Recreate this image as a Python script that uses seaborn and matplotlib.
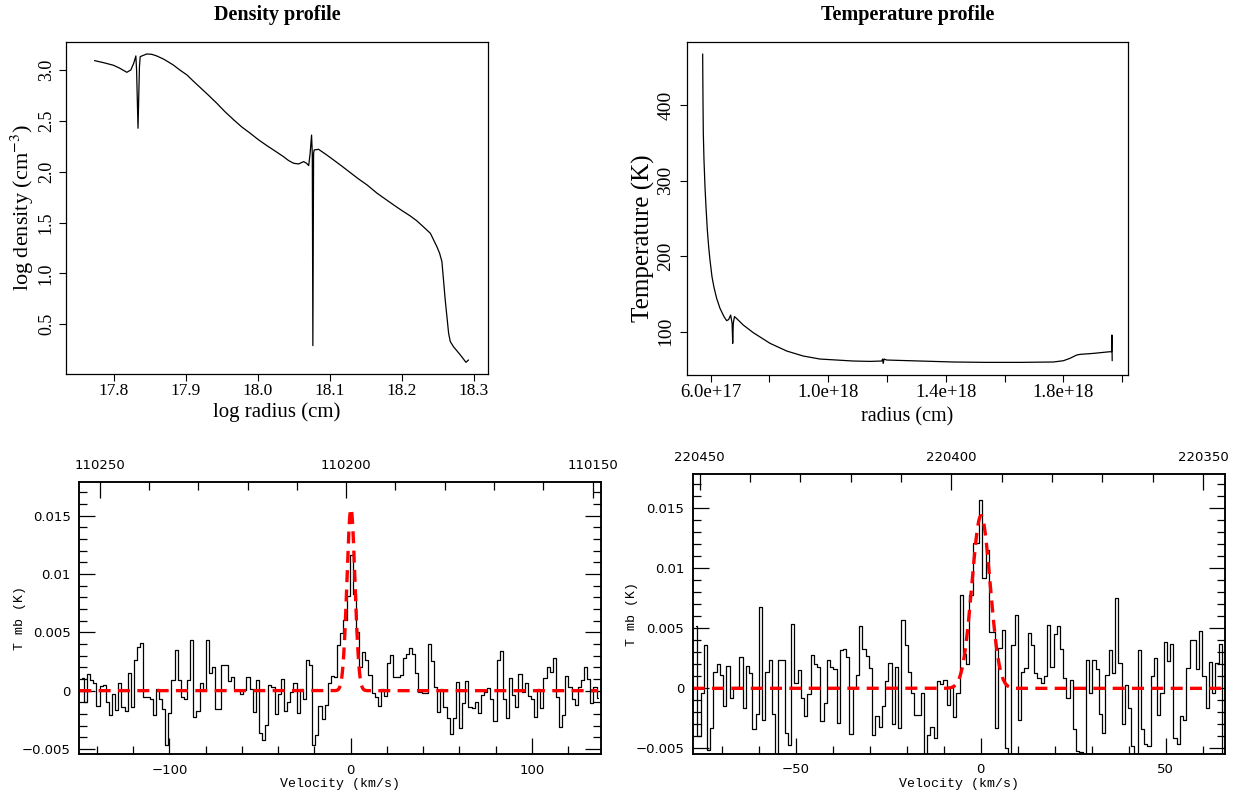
import numpy as np
import matplotlib
matplotlib.use("Agg")
import matplotlib.pyplot as plt
from matplotlib.ticker import FixedLocator, MultipleLocator, FuncFormatter
import seaborn as sns

# ---------------- data: density profile ----------------
log_radius = [17.7736, 17.786, 17.800, 17.809, 17.8185, 17.824, 17.828, 17.831, 17.832, 17.834,
              17.836, 17.837, 17.846, 17.853, 17.860, 17.870, 17.883, 17.892, 17.902, 17.911,
              17.920, 17.9315, 17.9435, 17.955, 17.967, 17.978, 17.990, 18.001, 18.013, 18.025,
              18.036, 18.043, 18.050, 18.057, 18.064,
              18.068, 18.071, 18.073, 18.075, 18.076, 18.0768, 18.0778, 18.0787, 18.0847, 18.095,
              18.1056, 18.117, 18.1287, 18.140, 18.152, 18.166, 18.178, 18.189, 18.200, 18.212,
              18.221, 18.230, 18.240, 18.249, 18.2528, 18.256,
              18.2606, 18.2653, 18.2676, 18.272, 18.2815, 18.2894, 18.293]
log_density = [3.092, 3.072, 3.046, 3.016, 2.977, 3.000, 3.066, 3.138, 3.000, 2.427,
               3.033, 3.131, 3.157, 3.154, 3.138, 3.105, 3.049, 3.000, 2.951, 2.889,
               2.830, 2.754, 2.672, 2.588, 2.509, 2.440, 2.377, 2.315, 2.256, 2.200,
               2.148, 2.110, 2.083, 2.076, 2.099,
               2.083, 2.060, 2.180, 2.360, 2.180, 0.290, 2.180, 2.214, 2.220, 2.170,
               2.115, 2.055, 1.991, 1.930, 1.870, 1.788, 1.728, 1.673, 1.620, 1.565,
               1.518, 1.460, 1.394, 1.263, 1.198, 1.116,
               0.739, 0.412, 0.330, 0.280, 0.199, 0.126, 0.149]
density_xticks = [17.8, 17.9, 18.0, 18.1, 18.2, 18.3]
density_yticks = [0.5, 1.0, 1.5, 2.0, 2.5, 3.0]

# ---------------- data: temperature profile ----------------
radius_cm = [5.728e17, 5.739e17, 5.750e17, 5.773e17, 5.807e17, 5.841e17, 5.887e17, 5.932e17, 5.977e17,
             6.045e17, 6.113e17, 6.204e17, 6.318e17, 6.454e17, 6.544e17, 6.61e17, 6.68e17, 6.73e17,
             6.75e17, 6.77e17, 6.81e17, 6.88e17, 7.11e17, 7.45e17, 8.02e17, 8.59e17, 9.15e17,
             9.72e17, 1.029e18, 1.085e18, 1.142e18, 1.182e18, 1.185e18, 1.187e18, 1.190e18,
             1.199e18, 1.312e18, 1.426e18, 1.539e18, 1.652e18, 1.766e18, 1.800e18, 1.822e18,
             1.845e18, 1.857e18, 1.902e18, 1.958e18, 1.964e18, 1.965e18, 1.966e18]
temperature_K = [467.4, 406.6, 362.5, 327.2, 291.9, 265.4, 234.5, 212.5, 194.8,
                 172.8, 158.7, 144.1, 130.9, 119.9, 114.6, 116.0, 122.0, 111.0,
                 84.6, 111.0, 120.0, 117.6, 108.8, 98.7, 84.6, 74.4, 67.8,
                 63.8, 62.5, 61.2, 60.7, 61.2, 63.8, 58.0, 63.8,
                 62.5, 61.2, 59.9, 59.4, 59.4, 59.9, 61.6, 64.7,
                 69.1, 70.0, 71.3, 73.5, 73.5, 95.6, 61.6]
temp_xticks = [6e17, 8e17, 1.0e18, 1.2e18, 1.4e18, 1.6e18, 1.8e18, 2.0e18]
temp_xtick_labels = ["6.0e+17", "", "1.0e+18", "", "1.4e+18", "", "1.8e+18", ""]
temp_yticks = [100, 200, 300, 400]

# ---------------- data: 13CO(1-0) spectrum (T_mb in mK) ----------------
v0_10, dv_10 = -148.0, 1.725          # first channel velocity, channel width (km/s)
tmb_10_mK = [
    1.05, -0.94, 1.42, 0.91, 0.68, -1.31, 0.40, 0.45, -0.94, -2.07,
    -0.28, -1.65, 0.68, -1.36, -1.73, 1.53, -1.42, 2.67, 3.75, 4.09,
    -0.51, -0.51, -0.68, -2.07, 0.11, -0.74, -1.59, -4.63, -1.93, 0.91,
    3.47, 0.91, -0.51, -0.74, 0.91, 4.32, -2.22, -1.70, 0.63, 0.06,
    4.32, 1.53, 2.05, -1.59, -1.59, 2.19, 2.19, 0.80, 1.19, 0.06,
    0.06, -0.28, 0.06, 1.14, 0.11, -1.79, 0.91,
    -3.64, -4.20, -2.93, 0.48, 0.28, -1.99, -0.28, 0.97, -1.70, -0.94,
    -0.09, 0.63, -1.88, 0.11, -0.74, 2.67, 2.19, -4.63, -3.78, -1.31,
    -2.44, -1.22, 0.68, 1.25, 1.14, 3.89, 4.94, 6.08, 8.07, 11.6,
    8.24, 5.03, 2.05, 3.32, 2.67, 1.34, -0.17, -0.57, -1.31, 0.14,
    -0.43, 2.33, 3.04, 1.14, 1.14, 1.34, 2.84, 3.18, 3.69, 3.18,
    1.48, -0.09, -0.23, -0.17,
    4.03, 2.56, 0.34, -1.79, 0.11, -1.36, -2.36, -3.72, -2.36, 0.77,
    -3.21, -1.08, 0.82, -1.42, -1.51, -0.94, -1.93, -0.37, -0.09, 0.23,
    -0.74, -2.56, 2.67, 3.41, -0.74, -2.36, 1.05, -0.37, -1.42, 1.42,
    -0.09, 0.68, -0.45, -0.74, -2.22, 0.11, -1.51, 1.05, 2.05, 1.62,
    2.84, -0.51, -3.07, -2.07, 1.25, 0.28, -0.74, -1.22, 0.28, 0.91,
    1.99, 0.97, -1.02, 0.28, -0.60]
fit_10 = dict(amp=0.0156, center=0.2, fwhm=5.2)
frest_10, vsys = 110201.354, 6.1       # MHz, km/s

# ---------------- data: 13CO(2-1) spectrum (T_mb in mK) ----------------
v0_21, dv_21 = -77.0, 0.875
tmb_21_mK = [
    5.2, -4.0, -0.4, 3.6, -5.1, -3.3, 1.33, 2.0, 1.1, -1.5,
    1.83, -0.8, 0.1, 0.1, 2.6, -1.6, 1.83, 1.28, -3.4, -2.1,
    6.8, -2.6, 1.4, 2.4, -2.1, -6.5, 2.4, 2.4, -3.7, -4.7,
    5.4, 0.44, 1.55, -0.8, -2.3, -0.5, 2.8, 2.0, 1.8, -2.75,
    -1.2, 2.4, 1.8, 1.6, -2.9, 3.2, 3.3, 2.6, -3.8, 0.0,
    1.1, 5.2, 3.3, 2.7, 1.7,
    -3.9, -2.3, -3.2, -1.5, 0.58, 2.1, -3.0, 1.8, -3.3, 5.7,
    3.6, 1.4, -0.4, -2.2, -2.2, -0.4, -6.0, -3.9, -3.2, -4.1,
    0.58, 0.4, 0.67, -1.4, 0.1, -2.4, -0.4, 7.8, 2.9, 2.0,
    7.8, 12.1, 12.1, 15.7, 9.2, 11.5, 4.7, 4.7, -3.3, 3.4,
    4.9, -5.0, -6.0, 3.6, 6.1, -2.6, 1.4, 1.7, 4.6, 3.6,
    1.3, 0.86, 0.44, 1.0, 5.3,
    1.8, 4.5, 5.2, 3.3, 0.86, -0.8, 0.7, -3.4, -5.25, -5.3,
    -6.0, 2.4, -0.4, 2.4, 1.6, -2.1, -3.7, 1.1, 3.2, 1.3,
    7.5, 2.1, -3.0, 0.3, -1.6, -4.8, -6.0, 3.2, -3.4, -4.6,
    -4.8, 1.0, 2.5, -2.2, -0.4, 3.9, 2.3, 3.7, -4.1, -4.6,
    -2.3, -2.6, 1.7, 4.0, 4.0, 1.6, 4.75, 1.0, -1.6, 2.2,
    -0.4, 2.1, 3.7, -6.0, -4.0]
fit_21 = dict(amp=0.0144, center=0.1, fwhm=5.8)
frest_21 = 220398.684

tmb_yticks = [-0.005, 0.0, 0.005, 0.01, 0.015]
C_KMS = 299792.458

# ---------------- style ----------------
sns.set_style("ticks")
plt.rcParams.update({
    "font.family": ["DejaVu Sans"],
    "mathtext.fontset": "stix",
    "axes.edgecolor": "black", "xtick.color": "black", "ytick.color": "black",
    "text.color": "black", "axes.labelcolor": "black",
})
SERIF = "Liberation Serif"
MONO = "Liberation Mono"

W, H = 1239, 797
fig = plt.figure(figsize=(W / 100, H / 100), dpi=100)


def add_ax(l, t, r, b):
    return fig.add_axes([l / W, 1 - b / H, (r - l) / W, (b - t) / H])


# ================= Density profile =================
ax1 = add_ax(66, 42, 488, 374)
sns.lineplot(x=log_radius, y=log_density, ax=ax1, color="black", lw=0.9,
             sort=False, estimator=None)
ax1.set_xlim(17.734, 18.320)
ax1.set_ylim(0.011, 3.275)
ax1.xaxis.set_major_locator(FixedLocator(density_xticks))
ax1.yaxis.set_major_locator(FixedLocator(density_yticks))
ax1.xaxis.set_major_formatter(FuncFormatter(lambda x, p: f"{x:.1f}"))
ax1.yaxis.set_major_formatter(FuncFormatter(lambda x, p: f"{x:.1f}"))
ax1.tick_params(axis="both", direction="out", length=5, width=0.8,
                labelfontfamily=SERIF)
ax1.tick_params(axis="x", labelsize=12.5, pad=1.5)
ax1.tick_params(axis="y", labelsize=13, pad=3, labelrotation=90)
for lab in ax1.get_yticklabels():
    lab.set_va("center")
ax1.set_xlabel("log radius (cm)", fontsize=15, fontfamily=SERIF, va="center")
ax1.set_ylabel(r"log density (cm$^{-3}$)", fontsize=16, fontfamily=SERIF, va="center")
ax1.xaxis.set_label_coords(0.5, -0.1145)
ax1.yaxis.set_label_coords(-0.1043, 0.5)
ax1.set_title("Density profile", fontsize=14.5, fontweight="bold", fontfamily=SERIF,
              y=1.0813, pad=0, va="center")
for s in ax1.spines.values():
    s.set_linewidth(0.9)

# ================= Temperature profile =================
ax2 = add_ax(686.7, 41.7, 1128, 375)
sns.lineplot(x=radius_cm, y=temperature_K, ax=ax2, color="black", lw=0.9,
             sort=False, estimator=None)
ax2.set_xlim(5.185e17, 2.0198e18)
ax2.set_ylim(42.7, 483.7)
ax2.xaxis.set_major_locator(FixedLocator(temp_xticks))
ax2.xaxis.set_major_formatter(FuncFormatter(
    lambda x, p: temp_xtick_labels[p] if p is not None and p < len(temp_xtick_labels) else ""))
ax2.yaxis.set_major_locator(FixedLocator(temp_yticks))
ax2.yaxis.set_major_formatter(FuncFormatter(lambda y, p: f"{y:.0f}"))
ax2.tick_params(axis="both", direction="out", length=5, width=0.8,
                labelfontfamily=SERIF)
ax2.tick_params(axis="x", labelsize=13.5, pad=1.5)
ax2.tick_params(axis="y", labelsize=14, pad=4, labelrotation=90)
for lab in ax2.get_yticklabels():
    lab.set_va("center")
ax2.set_xlabel("radius (cm)", fontsize=14.5, fontfamily=SERIF, va="center")
ax2.set_ylabel("Temperature (K)", fontsize=18, fontfamily=SERIF, va="center")
ax2.xaxis.set_label_coords(0.5, -0.126)
ax2.yaxis.set_label_coords(-0.097, 0.41)
ax2.set_title("Temperature profile", fontsize=14.5, fontweight="bold", fontfamily=SERIF,
              y=1.080, pad=0, va="center")
for s in ax2.spines.values():
    s.set_linewidth(0.9)


# ================= Spectra =================
def tmb_fmt(y, pos):
    if abs(y) < 1e-12:
        return "0"
    return f"{y:g}".replace("-", "\u2212")


def vel_fmt(v, pos):
    return f"{v:g}".replace("-", "\u2212")


def spectrum_panel(ax, v0, dv, tmb_mK, fit, frest, xlim, vmaj, vmin, fmaj, fmin,
                   xlabel_y, ylabel_x):
    tmb = np.asarray(tmb_mK) / 1000.0
    vel = v0 + dv * np.arange(len(tmb))
    sns.lineplot(x=vel, y=tmb, ax=ax, color="black", lw=0.9, drawstyle="steps-mid",
                 sort=False, estimator=None)
    vf = np.linspace(xlim[0], vel[-1], 1500)
    model = fit["amp"] * np.exp(-4 * np.log(2) * ((vf - fit["center"]) / fit["fwhm"]) ** 2)
    sns.lineplot(x=vf, y=model, ax=ax, color="#ff0000", lw=2.4, sort=False, estimator=None)
    ax.lines[-1].set_dashes((3.6, 2.2))
    ax.set_xlim(*xlim)
    ax.set_ylim(-0.00545, 0.0179)
    ax.xaxis.set_major_locator(MultipleLocator(vmaj))
    ax.xaxis.set_minor_locator(MultipleLocator(vmin))
    ax.xaxis.set_major_formatter(FuncFormatter(vel_fmt))
    ax.yaxis.set_major_locator(FixedLocator(tmb_yticks))
    ax.yaxis.set_minor_locator(MultipleLocator(0.001))
    ax.yaxis.set_major_formatter(FuncFormatter(tmb_fmt))
    ax.tick_params(which="both", direction="in", left=True, right=True, bottom=True,
                   top=False, width=0.9, labelsize=9.5)
    ax.tick_params(which="major", length=11.5)
    ax.tick_params(which="minor", length=5.5)
    ax.tick_params(axis="y", pad=6)
    ax.tick_params(axis="x", pad=7)
    for s in ax.spines.values():
        s.set_linewidth(1.1)
    ax.set_xlabel("Velocity (km/s)", fontsize=9.5, fontfamily=MONO, va="center")
    ax.set_ylabel("T mb (K)", fontsize=9.5, fontfamily=MONO, va="center")
    ax.xaxis.set_label_coords(0.5, xlabel_y)
    ax.yaxis.set_label_coords(ylabel_x, 0.5)

    # frequency axis on top (sky frequency)
    f0 = frest * (1 - vsys / C_KMS)
    axf = ax.twiny()
    axf.set_xlim(f0 * (1 - xlim[0] / C_KMS), f0 * (1 - xlim[1] / C_KMS))
    axf.xaxis.set_major_locator(MultipleLocator(fmaj))
    axf.xaxis.set_minor_locator(MultipleLocator(fmin))
    axf.xaxis.set_major_formatter(FuncFormatter(lambda f, p: f"{f:.0f}"))
    axf.tick_params(which="both", direction="in", top=True, bottom=False,
                    labeltop=True, labelbottom=False, width=0.9, labelsize=9.5, pad=7)
    axf.tick_params(which="major", length=11.5)
    axf.tick_params(which="minor", length=5.5)
    for s in axf.spines.values():
        s.set_linewidth(1.1)
    return axf


ax3 = add_ax(79.3, 481.7, 601, 754.3)
spectrum_panel(ax3, v0_10, dv_10, tmb_10_mK, fit_10, frest_10, (-149.7, 138.2),
               100, 20, 50, 10, -0.109, -0.1137)

ax4 = add_ax(692.7, 473.7, 1225.3, 753.7)
spectrum_panel(ax4, v0_21, dv_21, tmb_21_mK, fit_21, frest_21, (-77.8, 66.1),
               50, 10, 50, 10, -0.108, -0.114)

fig.savefig("out.png", dpi=100)
